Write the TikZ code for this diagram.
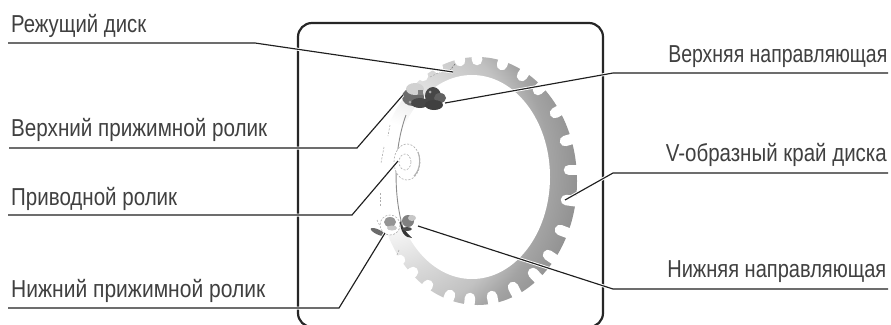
\documentclass[tikz,border=0pt]{standalone}
\usepackage{fontspec}
\setmainfont{Liberation Sans}
\pgfdeclareradialshading{ringsh}{\pgfpoint{0bp}{0bp}}{color(0bp)=(white);color(6bp)=(white);color(13bp)=(black!15);color(18bp)=(black!24);color(21bp)=(black!36);color(25bp)=(black!44);color(50bp)=(black!44)}
\newcommand{\lab}[2]{\resizebox{#1bp}{\height}{#2}}
\tikzset{
  lbl/.style={anchor=base west,inner sep=0pt,text=black!75,font=\fontsize{24.5bp}{26bp}\selectfont},
  lblr/.style={anchor=base east,inner sep=0pt,text=black!75,font=\fontsize{24.5bp}{26bp}\selectfont},
  leader/.style={draw=black!88,line width=1.15bp,preaction={draw=white,line width=3bp}},
  frame/.style={draw=black!85,line width=2.2bp,rounded corners=14bp},
  notch/.style={draw=white,line width=10.5bp,line cap=round},
  faint/.style={draw=black!32,line width=0.6bp,dash pattern=on 2bp off 1.5bp},
}
\begin{document}
\begin{tikzpicture}[x=1bp,y=-1bp]
\useasboundingbox (0,0) rectangle (891,324);
\fill[white] (0,0) rectangle (891,324);
% frame
\begin{scope}
\clip (0,0) rectangle (891,324);
\draw[frame] (298,23) rectangle (603,327);
\end{scope}
% disk
\begin{scope}
\clip (477.5,181) ellipse [x radius=99.5,y radius=124];
\path[shading=ringsh] (378,170) circle [radius=205];
\end{scope}
\fill[white] (472,177) ellipse [x radius=78,y radius=102];
% notches
\foreach \vx/\vy in {423/76,438/68,460/61,477/60,502/65,522/76,538/90,555/113,565/141,569/170,566/200,560/230,548/255,533/273,513/287,492/296,470/298,450/295,428/285,413/272,400/260}{
  \pgfmathsetmacro{\nx}{(\vx-477.5)/(99.5*99.5)}
  \pgfmathsetmacro{\ny}{(\vy-181)/(124*124)}
  \pgfmathsetmacro{\ang}{atan2(\ny,\nx)}
  \draw[notch] (\vx,\vy) -- ++(\ang:24);
}
% faint tooth edges on the pale side
\draw[faint] (430,77) -- (440,72);
\draw[faint] (390,125) -- (388,136);
\draw[faint] (384,147) -- (381,163);
\draw[faint] (380,193) -- (380,207);
\draw[faint] (377,220) -- (380,226);
\draw[faint] (399,250) -- (397,255);
\draw[faint,draw=black!55] (455,64) -- (448,73);
% inner edge shading on the left
\draw[black!45,line width=0.9bp] (406,115) .. controls (395,145) and (392,190) .. (403,228);
\fill[black!80] (400,220) .. controls (402,228) and (407,233) .. (412,238) .. controls (405,238) and (400,232) .. (400,220) -- cycle;
% upper guide and pinch roller
\fill[black!58] (413,97) ellipse [x radius=11,y radius=9];
\fill[black!72] (420,103) ellipse [x radius=9,y radius=5];
\fill[black!18] (415,89) ellipse [x radius=9,y radius=6];
\fill[black!50] (418,90) rectangle (423,95);
\fill[black!72] (433,96) ellipse [x radius=8,y radius=9];
\fill[black!62] (440,98) ellipse [x radius=6,y radius=5];
\fill[black!75] (434,105) ellipse [x radius=9,y radius=5];
\fill[black!35] (430,92) circle [radius=1.5];
\fill[black!35] (410,102) circle [radius=1.5];
% drive roller
\fill[white] (407,162) ellipse [x radius=13,y radius=18];
\draw[faint] (407,162) ellipse [x radius=13,y radius=18];
\draw[faint] (405,162) ellipse [x radius=6,y radius=8];
\draw[black!30,line width=1.1bp] (418,152) .. controls (421,160) and (420,170) .. (414,176);
% lower rollers
\fill[white] (390,225) circle [radius=10];
\draw[faint] (390,225) circle [radius=10];
\fill[black!42] (390,222) ellipse [x radius=6,y radius=5];
\fill[black!22] (392,228) ellipse [x radius=5,y radius=2.5];
\fill[black!58,rotate around={-25:(378,232)}] (378,232) ellipse [x radius=8,y radius=2.5];
\fill[black!50] (408,221) ellipse [x radius=6,y radius=6];
\fill[black!22] (412,218) ellipse [x radius=4,y radius=3];
\fill[black!70] (407,229) ellipse [x radius=5,y radius=2];
% labels
\node[lbl] (l1) at (11,32) {\lab{135}{Режущий диск}};
\node[lbl] (l2) at (11,136) {\lab{256}{Верхний прижимной ролик}};
\node[lbl] (l3) at (11,205) {\lab{166}{Приводной ролик}};
\node[lbl] (l4) at (11,297) {\lab{254}{Нижний прижимной ролик}};
\node[lblr] (r1) at (887.5,62) {\lab{219}{Верхняя направляющая}};
\node[lblr] (r2) at (887,161) {\lab{221}{V-образный край диска}};
\node[lblr] (r3) at (886.5,277) {\lab{219}{Нижняя направляющая}};
% leader coordinates
\coordinate (a1) at (8,43);   \coordinate (b1) at (255,43);  \coordinate (c1) at (453,72);
\coordinate (a2) at (9,148);  \coordinate (b2) at (357,148); \coordinate (c2) at (403,95);
\coordinate (a3) at (8,215);  \coordinate (b3) at (352,215); \coordinate (c3) at (398,161);
\coordinate (a4) at (8,308);  \coordinate (b4) at (339,308); \coordinate (c4) at (385,233);
\coordinate (d1) at (888,73); \coordinate (e1) at (613,73);  \coordinate (f1) at (445,103);
\coordinate (d2) at (888,173);\coordinate (e2) at (613,173); \coordinate (f2) at (565,200);
\coordinate (d3) at (888,289);\coordinate (e3) at (613,289); \coordinate (f3) at (418,226);
\draw[leader] (a1) -- (b1) -- (c1);
\draw[leader] (a2) -- (b2) -- (c2);
\draw[leader] (a3) -- (b3) -- (c3);
\draw[leader] (a4) -- (b4) -- (c4);
\draw[leader] (d1) -- (e1) -- (f1);
\draw[leader] (d2) -- (e2) -- (f2);
\draw[leader] (d3) -- (e3) -- (f3);
\end{tikzpicture}
\end{document}
